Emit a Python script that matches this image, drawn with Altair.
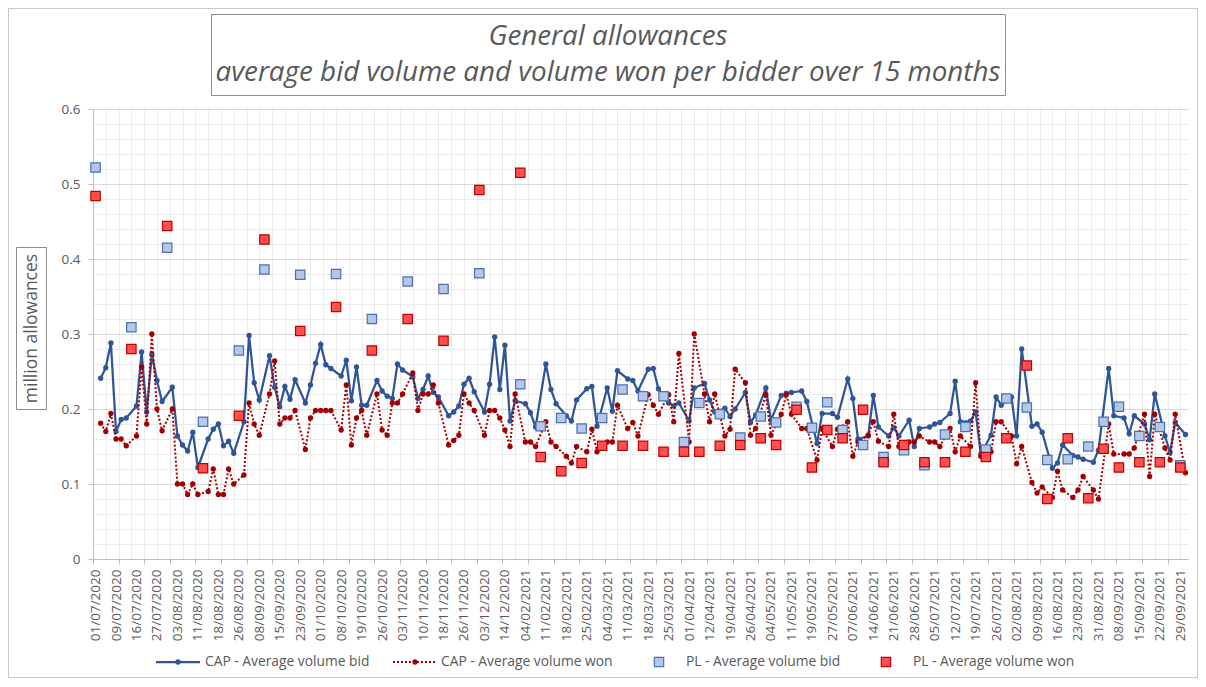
import json
import altair as alt
import pandas as pd

# ---------------- data ----------------
x_labels = [
    "01/07/2020", "09/07/2020", "16/07/2020", "27/07/2020", "03/08/2020", "11/08/2020",
    "18/08/2020", "26/08/2020", "08/09/2020", "15/09/2020", "23/09/2020", "01/10/2020",
    "08/10/2020", "19/10/2020", "26/10/2020", "03/11/2020", "10/11/2020", "18/11/2020",
    "26/11/2020", "03/12/2020", "14/12/2020", "04/02/2021", "11/02/2021", "18/02/2021",
    "25/02/2021", "04/03/2021", "11/03/2021", "18/03/2021", "25/03/2021", "01/04/2021",
    "12/04/2021", "19/04/2021", "26/04/2021", "04/05/2021", "11/05/2021", "19/05/2021",
    "27/05/2021", "07/06/2021", "14/06/2021", "21/06/2021", "28/06/2021", "05/07/2021",
    "12/07/2021", "19/07/2021", "26/07/2021", "02/08/2021", "09/08/2021", "16/08/2021",
    "23/08/2021", "31/08/2021", "08/09/2021", "15/09/2021", "22/09/2021", "29/09/2021",
]
N_CAT = 214  # auction dates on the category axis

# PL auctions: category position, average volume bid, average volume won
pl_idx = [0, 7, 14, 21, 28, 33, 40, 47, 54, 61, 68, 75, 83, 87, 91, 95, 99, 103, 107, 111,
          115, 118, 122, 126, 130, 133, 137, 140, 143, 146, 150, 154, 158, 162, 166, 170,
          174, 178, 182, 186, 190, 194, 197, 200, 204, 208, 212]
pl_bid = [0.522, 0.309, 0.415, 0.183, 0.278, 0.386, 0.379, 0.380, 0.320, 0.370, 0.360, 0.381,
          0.233, 0.177, 0.188, 0.174, 0.188, 0.226, 0.217, 0.217, 0.156, 0.208, 0.193, 0.162,
          0.190, 0.182, 0.203, 0.175, 0.209, 0.172, 0.152, 0.136, 0.145, 0.125, 0.166, 0.176,
          0.146, 0.214, 0.202, 0.132, 0.133, 0.150, 0.183, 0.203, 0.164, 0.176, 0.125]
pl_won = [0.484, 0.280, 0.444, 0.121, 0.191, 0.426, 0.304, 0.336, 0.278, 0.320, 0.291, 0.492,
          0.515, 0.136, 0.117, 0.128, 0.151, 0.151, 0.151, 0.143, 0.143, 0.143, 0.151, 0.152,
          0.161, 0.152, 0.199, 0.122, 0.172, 0.161, 0.199, 0.129, 0.152, 0.129, 0.129, 0.143,
          0.136, 0.161, 0.258, 0.080, 0.161, 0.081, 0.147, 0.122, 0.129, 0.129, 0.122]

# CAP auctions (every other category), average volume bid / won
cap_bid = [
    0.241, 0.255, 0.288, 0.170, 0.186, 0.188,
    0.204, 0.276, 0.196, 0.273, 0.238, 0.210,
    0.229, 0.164, 0.152, 0.144, 0.169, 0.122,
    0.160, 0.173, 0.180, 0.151, 0.157, 0.141,
    0.183, 0.298, 0.235, 0.212,
    0.271, 0.229, 0.203, 0.230, 0.213, 0.239,
    0.208, 0.232, 0.261, 0.286, 0.259, 0.254,
    0.244, 0.265, 0.211, 0.256, 0.205, 0.205,
    0.238, 0.224, 0.217, 0.214, 0.260, 0.252,
    0.243, 0.214, 0.226, 0.244, 0.222, 0.216,
    0.191, 0.196, 0.204, 0.233, 0.241, 0.223,
    0.196, 0.233, 0.296, 0.226, 0.285, 0.184, 0.211,
    0.207, 0.195, 0.176,
    0.260, 0.226, 0.207,
    0.191, 0.184, 0.212,
    0.227, 0.230, 0.177,
    0.228, 0.197, 0.251,
    0.240, 0.238, 0.224,
    0.253, 0.254, 0.227,
    0.208, 0.204, 0.208,
    0.184, 0.228,
    0.234, 0.212, 0.196,
    0.201, 0.190, 0.200,
    0.222, 0.182, 0.192,
    0.228, 0.185,
    0.218, 0.221, 0.222,
    0.224, 0.210,
    0.154, 0.194,
    0.194, 0.189,
    0.240, 0.214, 0.160,
    0.164, 0.218, 0.176,
    0.164, 0.175, 0.164,
    0.185, 0.150, 0.174,
    0.176, 0.180, 0.182,
    0.194, 0.237, 0.183,
    0.184, 0.196, 0.140,
    0.165, 0.216, 0.205,
    0.216, 0.164, 0.280,
    0.177, 0.180, 0.169,
    0.121, 0.128, 0.152,
    0.138, 0.136, 0.133,
    0.129, 0.145,
    0.254, 0.191,
    0.188, 0.167, 0.191,
    0.180, 0.159, 0.220,
    0.164, 0.142, 0.182,
    0.166,
]
cap_won = [
    0.181, 0.170, 0.194, 0.160, 0.160, 0.151,
    0.164, 0.256, 0.180, 0.300, 0.200, 0.171,
    0.200, 0.100, 0.100, 0.086, 0.100, 0.086,
    0.090, 0.120, 0.086, 0.086, 0.120, 0.100,
    0.112, 0.208, 0.180, 0.165,
    0.220, 0.264, 0.180, 0.188, 0.188, 0.198,
    0.146, 0.188, 0.198, 0.198, 0.198, 0.198,
    0.172, 0.232, 0.152, 0.188, 0.198, 0.165,
    0.220, 0.172, 0.165, 0.208, 0.208, 0.220,
    0.248, 0.198, 0.220, 0.220, 0.232, 0.208,
    0.152, 0.158, 0.165, 0.220, 0.208, 0.198,
    0.165, 0.198, 0.198, 0.188, 0.172, 0.150, 0.220,
    0.156, 0.156, 0.150,
    0.183, 0.156, 0.150,
    0.137, 0.128, 0.150,
    0.143, 0.173, 0.143,
    0.156, 0.156, 0.205,
    0.174, 0.182, 0.164,
    0.219, 0.205, 0.193,
    0.219, 0.183, 0.274,
    0.156, 0.300,
    0.220, 0.183, 0.220,
    0.164, 0.173, 0.253,
    0.235, 0.165, 0.174,
    0.219, 0.165,
    0.193, 0.219, 0.193,
    0.174, 0.174,
    0.132, 0.174,
    0.150, 0.173,
    0.183, 0.137, 0.156,
    0.165, 0.183, 0.157,
    0.150, 0.193, 0.150,
    0.156, 0.156, 0.164,
    0.156, 0.156, 0.150,
    0.174, 0.143, 0.164,
    0.150, 0.235, 0.137,
    0.143, 0.183, 0.183,
    0.164, 0.127, 0.150,
    0.102, 0.088, 0.096,
    0.082, 0.117, 0.092,
    0.082, 0.092, 0.110,
    0.092, 0.080,
    0.180, 0.140,
    0.140, 0.140, 0.148,
    0.193, 0.110, 0.193,
    0.148, 0.132, 0.193,
    0.115,
]

cap_idx = [i for i in range(1, N_CAT) if i not in pl_idx]
assert len(cap_idx) == len(cap_bid) == len(cap_won)
assert len(pl_idx) == len(pl_bid) == len(pl_won)

series_names = ["CAP - Average volume bid", "CAP - Average volume won",
                "PL - Average volume bid", "PL - Average volume won"]
title_lines = ["General allowances",
               "average bid volume and volume won per bidder over 15 months"]
y_title = "million allowances"

# ---------------- style ----------------
FONT = "Open Sans"
TXT = "#595959"
BLUE = "#2F5597"
DRED = "#A00000"
PLB_FILL, PLB_STROKE = "#B4C7E7", "#4A70B5"
PLW_FILL, PLW_STROKE = "#FF5050", "#C00000"
W, H = 1095, 450

cap = pd.DataFrame({"idx": cap_idx, "bid": cap_bid, "won": cap_won})
pl = pd.DataFrame({"idx": pl_idx, "bid": pl_bid, "won": pl_won})
one = pd.DataFrame({"k": [0]})

grid_vals = [-0.5 + 2.5 * k for k in range(86)]
label_vals = [float(4 * k) for k in range(len(x_labels))]
x_values = sorted(set(grid_vals) | set(label_vals))
labels_js = json.dumps(x_labels).replace('"', "'")

x_axis = alt.Axis(
    values=x_values,
    title=None,
    labelExpr=f"datum.value % 4 == 0 ? {labels_js}[datum.value / 4] : ''",
    labelAngle=270,
    labelFont=FONT, labelFontSize=13.5, labelColor=TXT,
    labelPadding=5, labelOverlap=False, labelFlush=False, labelBound=False,
    tickSize=5, tickColor="#BFBFBF",
    tickOpacity={"condition": {"test": "(datum.value + 0.5) % 5 == 0", "value": 1}, "value": 0},
    grid=True, gridColor="#EBEBEB", gridWidth=1,
    gridOpacity={"condition": {"test": "(datum.value + 0.5) % 2.5 == 0", "value": 1}, "value": 0},
    domainColor="#BFBFBF",
)
y_axis = alt.Axis(
    values=[round(0.02 * i, 2) for i in range(31)],
    title=None,
    labelExpr="round(datum.value * 100) % 10 == 0 ? (datum.value == 0 ? '0' : format(datum.value, '.1f')) : ''",
    labelFont=FONT, labelFontSize=13.5, labelColor=TXT, labelPadding=8,
    tickSize=5, tickColor="#BFBFBF",
    tickOpacity={"condition": {"test": "round(datum.value * 100) % 10 == 0", "value": 1}, "value": 0},
    grid=True, gridWidth=1,
    gridColor={"condition": {"test": "round(datum.value * 100) % 10 == 0", "value": "#D9D9D9"},
               "value": "#EBEBEB"},
    domainColor="#BFBFBF",
)

x_scale = alt.Scale(domain=[-0.5, N_CAT - 0.5], nice=False, zero=False)
y_scale = alt.Scale(domain=[0, 0.6], nice=False)


def xe():
    return alt.X("idx:Q", scale=x_scale, axis=x_axis)


def ye(field):
    return alt.Y(f"{field}:Q", scale=y_scale, axis=y_axis)


cap_bid_line = alt.Chart(cap).mark_line(color=BLUE, strokeWidth=2.25).encode(x=xe(), y=ye("bid"))
cap_bid_pts = alt.Chart(cap).mark_circle(color=BLUE, size=28, opacity=1).encode(x=xe(), y=ye("bid"))
cap_won_line = alt.Chart(cap).mark_line(color=DRED, strokeWidth=2, strokeDash=[2, 2]).encode(
    x=xe(), y=ye("won"))
cap_won_pts = alt.Chart(cap).mark_circle(color=DRED, size=28, opacity=1).encode(x=xe(), y=ye("won"))
pl_bid_sq = alt.Chart(pl).mark_square(fill=PLB_FILL, stroke=PLB_STROKE, strokeWidth=1.2,
                                      size=88, opacity=1).encode(x=xe(), y=ye("bid"))
pl_won_sq = alt.Chart(pl).mark_square(fill=PLW_FILL, stroke=PLW_STROKE, strokeWidth=1.2,
                                      size=88, opacity=1).encode(x=xe(), y=ye("won"))

# ---------------- decorations (pixel positions relative to plot area) ----------------
outer = alt.Chart(one).mark_rect(fill=None, stroke="#C8C8C8", strokeWidth=1).encode(
    x=alt.value(-84.5), x2=alt.value(1104.5), y=alt.value(-100.5), y2=alt.value(568.5))
title_box = alt.Chart(one).mark_rect(fill="white", stroke="#8C8C8C", strokeWidth=1).encode(
    x=alt.value(118.5), x2=alt.value(912.5), y=alt.value(-94.5), y2=alt.value(-13.5))
title_l1 = alt.Chart(one).mark_text(font=FONT, fontSize=27.8, fontStyle="italic", color=TXT,
                                    align="center", baseline="middle").encode(
    x=alt.value(515), y=alt.value(-72), text=alt.value(title_lines[0]))
title_l2 = alt.Chart(one).mark_text(font=FONT, fontSize=27.8, fontStyle="italic", color=TXT,
                                    align="center", baseline="middle").encode(
    x=alt.value(515), y=alt.value(-36), text=alt.value(title_lines[1]))
ytitle_box = alt.Chart(one).mark_rect(fill="white", stroke="#8C8C8C", strokeWidth=1).encode(
    x=alt.value(-76.5), x2=alt.value(-46.5), y=alt.value(138.5), y2=alt.value(300.5))
ytitle = alt.Chart(one).mark_text(font=FONT, fontSize=17.5, color=TXT, angle=270,
                                  align="center", baseline="middle").encode(
    x=alt.value(-61.5), y=alt.value(219.5), text=alt.value(y_title))

LY = 553
leg = []
leg.append(alt.Chart(one).mark_rule(color=BLUE, strokeWidth=2.25).encode(
    x=alt.value(63), x2=alt.value(107), y=alt.value(LY)))
leg.append(alt.Chart(one).mark_circle(color=BLUE, size=28, opacity=1).encode(
    x=alt.value(85), y=alt.value(LY)))
leg.append(alt.Chart(one).mark_rule(color=DRED, strokeWidth=2, strokeDash=[2, 2]).encode(
    x=alt.value(300), x2=alt.value(344), y=alt.value(LY)))
leg.append(alt.Chart(one).mark_circle(color=DRED, size=28, opacity=1).encode(
    x=alt.value(322), y=alt.value(LY)))
leg.append(alt.Chart(one).mark_square(fill=PLB_FILL, stroke=PLB_STROKE, strokeWidth=1.2,
                                      size=88, opacity=1).encode(x=alt.value(566), y=alt.value(LY)))
leg.append(alt.Chart(one).mark_square(fill=PLW_FILL, stroke=PLW_STROKE, strokeWidth=1.2,
                                      size=88, opacity=1).encode(x=alt.value(793), y=alt.value(LY)))
for name, tx in zip(series_names, [112, 348, 593, 820]):
    leg.append(alt.Chart(one).mark_text(font=FONT, fontSize=13.8, color=TXT, align="left",
                                        baseline="middle").encode(
        x=alt.value(tx), y=alt.value(LY), text=alt.value(name)))

chart = alt.layer(
    cap_bid_line, cap_bid_pts, cap_won_line, cap_won_pts, pl_bid_sq, pl_won_sq,
    outer, title_box, title_l1, title_l2, ytitle_box, ytitle, *leg,
).properties(
    width=W, height=H,
    autosize=alt.AutoSizeParams(type="none"),
    padding={"left": 85, "top": 101, "right": 10, "bottom": 119},
).configure_view(stroke=None)

chart.save("out.html", embed_options={"renderer": "svg", "actions": False})
